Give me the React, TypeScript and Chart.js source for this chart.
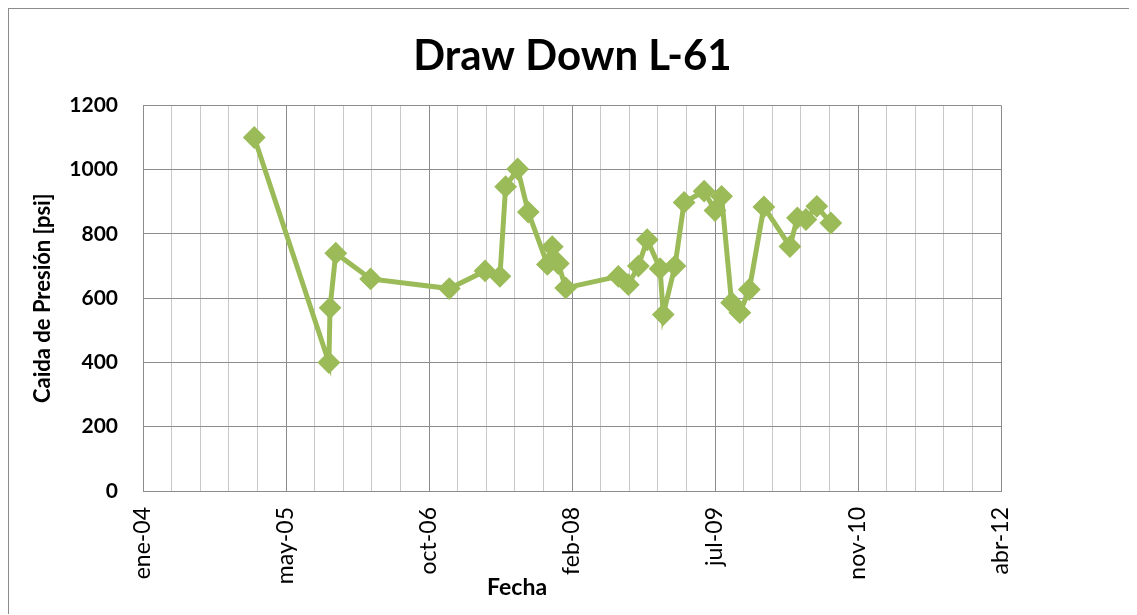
import React, { useEffect, useRef } from 'react';
import { Chart, registerables } from 'chart.js';

Chart.register(...registerables);

const TITLE = 'Draw Down L-61';
const X_TITLE = 'Fecha';
const Y_TITLE = 'Caida de Presión [psi]';
const MONTHS = ['ene', 'feb', 'mar', 'abr', 'may', 'jun', 'jul', 'ago', 'sep', 'oct', 'nov', 'dic'];

const DATES = [
  '2005-02-06', '2005-10-25', '2005-10-29', '2005-11-18', '2006-03-20',
  '2006-12-20', '2007-04-24', '2007-06-15', '2007-07-05', '2007-08-16',
  '2007-09-22', '2007-11-28', '2007-12-15', '2008-01-05', '2008-01-31',
  '2008-08-02', '2008-09-06', '2008-10-11', '2008-11-11', '2008-12-26',
  '2009-01-06', '2009-02-16', '2009-03-20', '2009-05-29', '2009-07-06',
  '2009-07-29', '2009-09-02', '2009-10-01', '2009-11-03', '2009-12-24',
  '2010-03-25', '2010-04-20', '2010-05-20', '2010-06-27', '2010-08-15',
];
const DRAWDOWN = [
  1100, 400, 570, 740, 660,
  630, 685, 668, 947, 1002,
  868, 705, 760, 708, 632,
  668, 642, 700, 782, 692,
  549, 700, 898, 933, 873,
  917, 586, 555, 627, 884,
  761, 850, 845, 886, 834,
];

// Excel date-axis settings (serial days)
const X_MIN = 38000;
const X_MAX = 41000;
const X_MAJOR = 500;
const X_MINOR = 100;
const Y_MIN = 0;
const Y_MAX = 1200;
const Y_STEP = 200;

const GREEN = '#9bbb59';
const MAJOR_GRID = '#8c8c8c';
const MINOR_GRID = '#c8c8c8';

const EXCEL_EPOCH = Date.UTC(1899, 11, 30);
const DAY = 86400000;
const toSerial = (iso: string) => {
  const [y, m, d] = iso.split('-').map(Number);
  return Math.round((Date.UTC(y, m - 1, d) - EXCEL_EPOCH) / DAY);
};
const serialLabel = (s: number) => {
  const d = new Date(EXCEL_EPOCH + Math.round(s) * DAY);
  return `${MONTHS[d.getUTCMonth()]}-${String(d.getUTCFullYear() % 100).padStart(2, '0')}`;
};

const xTitlePlugin = {
  id: 'xTitleOffset',
  afterDraw(chart: any) {
    const { ctx, chartArea } = chart;
    ctx.save();
    ctx.font = 'bold 23px Lato';
    ctx.fillStyle = '#000';
    ctx.textAlign = 'center';
    ctx.textBaseline = 'alphabetic';
    ctx.fillText(X_TITLE, chartArea.left + (chartArea.right - chartArea.left) * 0.436, chartArea.bottom + 104);
    ctx.restore();
  },
};

export default function App() {
  const ref = useRef<HTMLCanvasElement>(null);

  useEffect(() => {
    if (!ref.current) return;
    const data = DATES.map((d, i) => ({ x: toSerial(d), y: DRAWDOWN[i] }));
    const chart = new Chart(ref.current, {
      type: 'line',
      data: {
        datasets: [
          {
            label: 'Caida de Presión',
            data,
            borderColor: GREEN,
            backgroundColor: GREEN,
            borderWidth: 5,
            tension: 0,
            pointStyle: 'rectRot',
            pointRadius: 10,
            pointBorderWidth: 2,
            pointBorderColor: GREEN,
            pointBackgroundColor: GREEN,
          },
        ],
      },
      options: {
        animation: false,
        responsive: false,
        layout: { padding: 0 },
        plugins: {
          legend: { display: false },
          tooltip: { enabled: false },
          title: {
            display: true,
            text: TITLE,
            color: '#000',
            font: { family: 'Lato', size: 42, weight: 'bold' },
            padding: { top: 22, bottom: 24 },
          },
        },
        scales: {
          x: {
            type: 'linear',
            min: X_MIN,
            max: X_MAX,
            afterBuildTicks: (scale: any) => {
              const ticks = [];
              for (let v = X_MIN; v <= X_MAX; v += X_MINOR) ticks.push({ value: v });
              scale.ticks = ticks;
            },
            afterFit: (scale: any) => {
              scale.height = 123;
            },
            ticks: {
              autoSkip: false,
              minRotation: 90,
              maxRotation: 90,
              padding: 16,
              color: '#000',
              font: { family: 'Lato', size: 23 },
              callback: (v: any) => (Math.round(Number(v)) % X_MAJOR === 0 ? serialLabel(Number(v)) : ''),
            },
            grid: {
              drawTicks: false,
              color: (ctx: any) =>
                ctx.tick && Math.round(ctx.tick.value) % X_MAJOR === 0 ? MAJOR_GRID : MINOR_GRID,
            },
            border: { color: MAJOR_GRID },
          },
          y: {
            min: Y_MIN,
            max: Y_MAX,
            afterFit: (scale: any) => {
              scale.width = 134;
            },
            ticks: {
              stepSize: Y_STEP,
              padding: 25,
              color: '#000',
              font: { family: 'Lato', size: 21, weight: 'bold' },
              callback: (v: any) => String(v),
            },
            grid: { drawTicks: false, color: MAJOR_GRID },
            border: { color: MAJOR_GRID },
            title: {
              display: true,
              text: Y_TITLE,
              color: '#000',
              font: { family: 'Lato', size: 22, weight: 'bold' },
              padding: { top: 21, bottom: 0 },
            },
          },
          // empty right-hand box that reserves the blank space right of the plot
          yRight: {
            position: 'right',
            min: Y_MIN,
            max: Y_MAX,
            afterFit: (scale: any) => {
              scale.width = 135;
            },
            ticks: { display: false },
            grid: { display: false, drawTicks: false },
            border: { display: false },
          },
        },
      },
      plugins: [xTitlePlugin],
    });
    return () => chart.destroy();
  }, []);

  return (
    <div
      style={{
        position: 'relative',
        width: 1129,
        height: 607,
        marginLeft: -1,
        marginTop: -1,
        borderLeft: '2px solid #8c8c8c',
        borderTop: '2px solid #8c8c8c',
        boxSizing: 'border-box',
        background: '#fff',
      }}
    >
      <canvas ref={ref} width={1127} height={605} style={{ display: 'block' }} />
    </div>
  );
}
